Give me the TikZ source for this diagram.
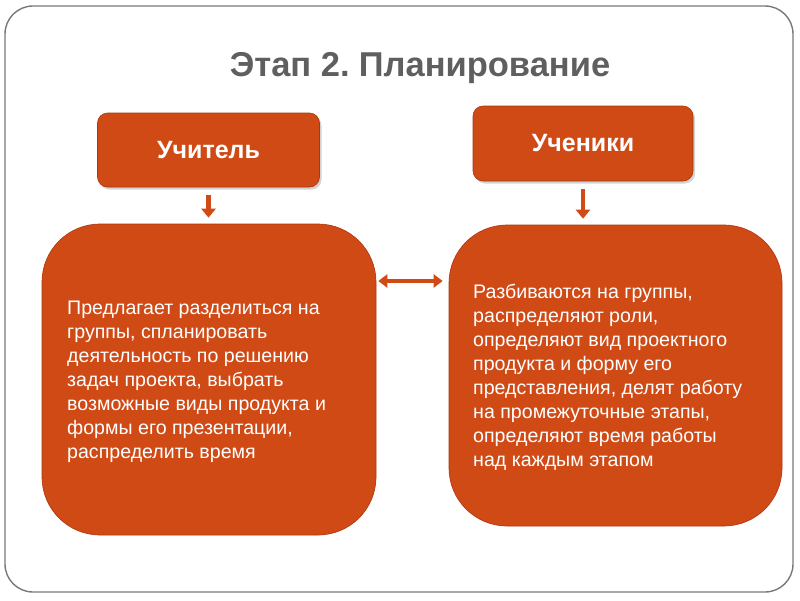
\documentclass[tikz,border=0pt]{standalone}
\usepackage{fontspec}
\setmainfont{Liberation Sans}
\usetikzlibrary{shadows,arrows.meta}
\definecolor{boxfill}{RGB}{208,74,22}
\definecolor{boxedge}{RGB}{170,55,15}
\definecolor{titlegray}{RGB}{95,95,95}
\definecolor{framegray}{RGB}{120,120,120}
\begin{document}
\begin{tikzpicture}[x=1pt,y=-1pt,
  rolebox/.style={draw=boxedge,line width=0.6pt,fill=boxfill,rounded corners=10pt,
    minimum width=222pt,minimum height=74pt,text=white,font=\bfseries\fontsize{25}{28}\selectfont,
    drop shadow={shadow xshift=2pt,shadow yshift=-2.5pt,opacity=0.35}},
  bigbox/.style={draw=boxedge,line width=0.6pt,fill=boxfill,rounded corners=58pt,inner sep=0pt},
  boxtext/.style={text=white,font=\fontsize{19.6}{24}\selectfont,align=left,anchor=west,inner sep=0pt},
  downarrow/.style={draw=boxfill,line width=4.5pt,-{Triangle[width=14pt,length=9pt]},
    shorten <=8pt,shorten >=6pt},
  dblarrow/.style={draw=boxfill,line width=4pt,{Triangle[width=13pt,length=9pt]}-{Triangle[width=13pt,length=9pt]},
    shorten <=2pt,shorten >=6pt}
]
\useasboundingbox (0,0) rectangle (800,600);
\draw[framegray,line width=1.4pt,rounded corners=28pt] (5,6) rectangle (793,592);
\node[text=titlegray,font=\bfseries\fontsize{34.5}{38}\selectfont] (title) at (420,68) {Этап 2.\hspace{-3.5pt} Планирование};
\node[rolebox] (T) at (208.5,150) {Учитель};
\node[rolebox,minimum width=220pt,minimum height=75pt] (S) at (583,143.5) {Ученики};
\node[bigbox,minimum width=334pt,minimum height=311pt] (L) at (209,379.5) {};
\node[bigbox,minimum width=333pt,minimum height=301pt] (R) at (615.5,375.5) {};
\node[boxtext] (Lt) at (67,382)
{Предлагает разделиться на\\ группы, спланировать\\ деятельность по решению\\ задач проекта, выбрать\\ возможные виды продукта и\\ формы его презентации,\\ распределить время};
\node[boxtext] (Rt) at (473,377)
{Разбиваются на группы,\\ распределяют роли,\\ определяют вид проектного\\ продукта и форму его\\ представления, делят работу\\ на промежуточные этапы,\\ определяют время работы\\ над каждым этапом};
\draw[downarrow] (T.south) -- (T.south |- L.north);
\draw[downarrow] (S.south) -- (S.south |- R.north);
\coordinate (ay) at (0,281);
\draw[dblarrow] (L.east |- ay) -- (R.west |- ay);
\end{tikzpicture}
\end{document}
